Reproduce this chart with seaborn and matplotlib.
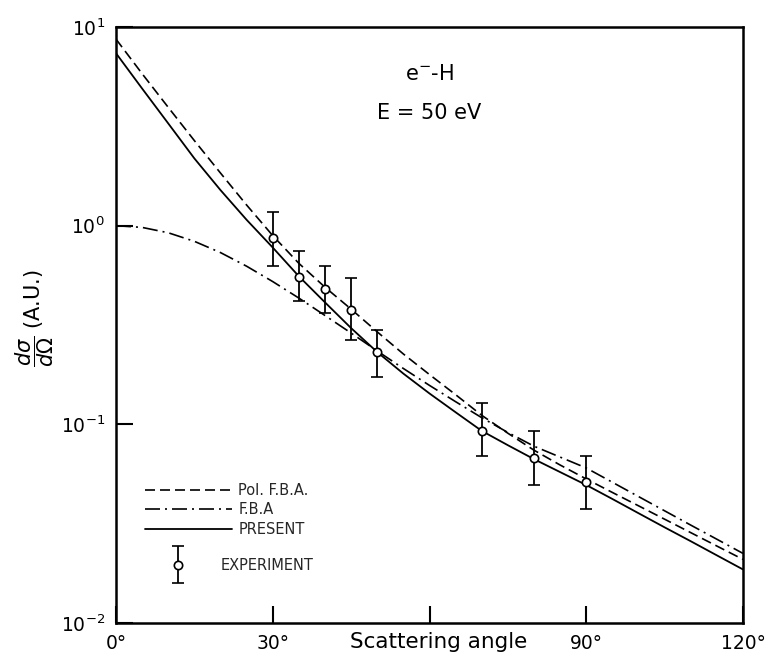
import numpy as np
import pandas as pd
import matplotlib
matplotlib.use("Agg")
import matplotlib.pyplot as plt
import seaborn as sns
from matplotlib.legend_handler import HandlerErrorbar
from matplotlib.lines import Line2D
from matplotlib.ticker import NullLocator

# ---- data ----
angles = [0, 5, 10, 15, 20, 25, 30, 35, 40, 45, 50, 55, 60,
          65, 70, 75, 80, 85, 90, 95, 100, 105, 110, 115, 120]
present = [7.38, 4.90, 3.27, 2.18, 1.51, 1.07, 0.776, 0.556, 0.411, 0.305,
           0.231, 0.180, 0.143, 0.115, 0.0927, 0.0785, 0.0668, 0.0575,
           0.0495, 0.0421, 0.0357, 0.0303, 0.0258, 0.0219, 0.0186]
pol_fba = [8.69, 5.82, 3.94, 2.68, 1.84, 1.27, 0.891, 0.646, 0.490, 0.380,
           0.292, 0.226, 0.178, 0.141, 0.111, 0.0902, 0.0741, 0.0624,
           0.0531, 0.0454, 0.0389, 0.0333, 0.0285, 0.0244, 0.0209]
fba = [1.0, 0.98, 0.921, 0.834, 0.732, 0.625, 0.523, 0.432, 0.353, 0.288,
       0.234, 0.191, 0.157, 0.130, 0.108, 0.091, 0.0776, 0.0684, 0.0603,
       0.0511, 0.0433, 0.0367, 0.0311, 0.0264, 0.0224]

exp_angle = [30, 35, 40, 45, 50, 70, 80, 90]
exp_val = [0.862, 0.553, 0.478, 0.376, 0.231, 0.0927, 0.0676, 0.0514]
exp_hi = [1.173, 0.744, 0.626, 0.547, 0.2985, 0.1287, 0.0927, 0.0695]
exp_lo = [0.626, 0.418, 0.365, 0.265, 0.174, 0.0689, 0.0495, 0.0376]

x_ticks = [0, 30, 60, 90, 120]
x_ticklabels = ["0°", "30°", "", "90°", "120°"]
y_ticks = [1e-2, 1e-1, 1e0, 1e1]
y_ticklabels = [r"$10^{-2}$", r"$10^{-1}$", r"$10^{0}$", r"$10^{1}$"]

# ---- style ----
sns.set_theme(style="ticks")
plt.rcParams["font.family"] = ["DejaVu Sans"]
plt.rcParams["axes.edgecolor"] = "black"

fig = plt.figure(figsize=(7.67, 6.54), dpi=100)
ax = fig.add_axes([116 / 767, 31 / 654, 627 / 767, 596 / 654])

df = pd.DataFrame({"angle": angles, "present": present,
                   "pol": pol_fba, "fba": fba})

sns.lineplot(data=df, x="angle", y="pol", ax=ax, color="black",
             linewidth=1.2, linestyle=(0, (6, 3)))
sns.lineplot(data=df, x="angle", y="fba", ax=ax, color="black",
             linewidth=1.2, linestyle=(0, (9, 3, 1.2, 3)))
sns.lineplot(data=df, x="angle", y="present", ax=ax, color="black",
             linewidth=1.3, linestyle="-")

ev = np.array(exp_val)
yerr = [ev - np.array(exp_lo), np.array(exp_hi) - ev]
eb = ax.errorbar(exp_angle, exp_val, yerr=yerr, fmt="o", mfc="white",
                 mec="black", mew=1.2, ms=6, ecolor="black", elinewidth=1.3,
                 capsize=4, capthick=1.3, zorder=5)

ax.set_yscale("log")
ax.set_xlim(0, 120)
ax.set_ylim(1e-2, 1e1)
ax.set_xticks(x_ticks)
ax.set_xticklabels(x_ticklabels)
ax.set_yticks(y_ticks)
ax.set_yticklabels(y_ticklabels)
ax.yaxis.set_minor_locator(NullLocator())
ax.xaxis.set_minor_locator(NullLocator())
ax.tick_params(axis="both", direction="in", length=12, width=1.5,
               colors="black", labelsize=13.5, pad=8)
for s in ax.spines.values():
    s.set_linewidth(1.8)
    s.set_color("black")

ax.set_xlabel("Scattering angle", fontsize=15.5, color="black")
ax.xaxis.set_label_coords(0.515, -0.032)
ax.xaxis.label.set_va("center")
ax.set_ylabel(r"$\dfrac{d\sigma}{d\Omega}$ (A.U.)", fontsize=15, color="black")
ax.yaxis.set_label_coords(-0.129, 0.512)
ax.yaxis.label.set_va("center")

ax.text(0.5, 0.921, r"e$^{-}$-H", transform=ax.transAxes, ha="center",
        va="center", fontsize=15, color="black")
ax.text(0.5, 0.856, "E = 50 eV", transform=ax.transAxes, ha="center",
        va="center", fontsize=15, color="black")

h1 = Line2D([], [], color="black", lw=1.2, linestyle=(0, (6, 3)))
h2 = Line2D([], [], color="black", lw=1.2, linestyle=(0, (9, 3, 1.2, 3)))
h3 = Line2D([], [], color="black", lw=1.3, linestyle="-")
leg1 = ax.legend([h1, h2, h3], ["Pol. F.B.A.", "F.B.A", "PRESENT"],
                 loc="upper left", bbox_to_anchor=(0.046, 0.235),
                 frameon=False, fontsize=10.5, handlelength=6.0,
                 handletextpad=0.4, labelspacing=0.3, borderpad=0,
                 borderaxespad=0)
ax.add_artist(leg1)
ax.legend([eb], ["EXPERIMENT"], loc="center left",
          bbox_to_anchor=(0.046, 0.097), frameon=False, fontsize=10.5,
          handlelength=4.6, handletextpad=0.6, borderpad=0, borderaxespad=0,
          handler_map={type(eb): HandlerErrorbar(xerr_size=0.3,
                                                 yerr_size=1.25,
                                                 numpoints=1)})

fig.savefig("out.png", dpi=100, facecolor="white")
